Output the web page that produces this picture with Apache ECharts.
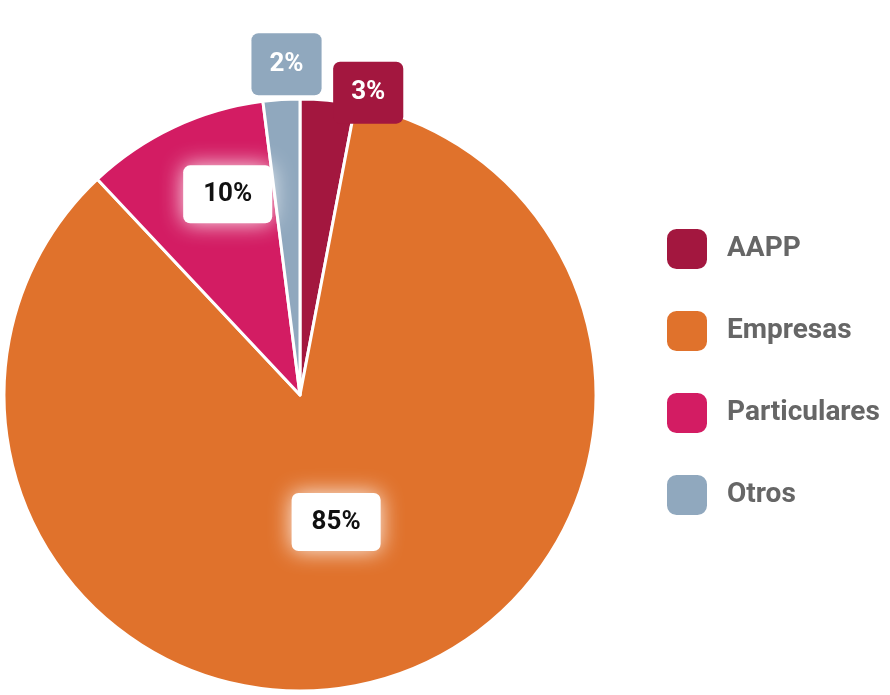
<!DOCTYPE html>
<html lang="es">
<head>
  <meta charset="UTF-8">
  <title>Pie</title>
  <style>
    body { margin: 0; padding: 0; background: #fff; }
    #main { width: 890px; height: 695px; }
  </style>
</head>
<body>
  <div id="main"></div>
</body>
</html>
<script src="https://cdn.jsdelivr.net/npm/echarts@6/dist/echarts.min.js"></script>
<script>
var categories = ['AAPP', 'Empresas', 'Particulares', 'Otros']
var values = [3, 85, 10, 2]
var colors = ['#a3173f', '#e0722c', '#d31c63', '#90a8be']
// label offsets from default inside position
var offsets = [[54, -152], [-6, -18], [-8, -64], [-4, -180]]

var white = {
  color: '#111', backgroundColor: '#fff', borderRadius: 7,
  padding: [16, 20], shadowColor: 'rgba(255,255,255,0.9)', shadowBlur: 22
}

var data = categories.map(function (name, i) {
  var lab = i === 0 || i === 3
    ? { color: '#fff', backgroundColor: colors[i], borderRadius: 7, padding: [18, 18] }
    : white
  return {
    name: name,
    value: values[i],
    itemStyle: { color: colors[i] },
    label: Object.assign({ offset: offsets[i] }, lab)
  }
})

var chart = echarts.init(document.getElementById('main'))
chart.setOption({
  animation: false,
  legend: {
    orient: 'vertical', left: 660, top: 222, itemGap: 38,
    itemWidth: 42, itemHeight: 42, icon: 'roundRect',
    textStyle: { fontSize: 28, fontWeight: 'bold', color: '#666', fontFamily: 'Roboto', padding: [0, 0, 0, 14] },
    data: categories
  },
  series: [{
    type: 'pie',
    center: [300, 395],
    radius: [0, 296],
    startAngle: 90,
    clockwise: true,
    itemStyle: { borderColor: '#fff', borderWidth: 3 },
    label: {
      show: true, position: 'inside', formatter: '{c}%',
      fontSize: 26, fontWeight: 'bold', fontFamily: 'Roboto'
    },
    labelLine: { show: false },
    emphasis: { disabled: true },
    data: data
  }]
})
</script>
